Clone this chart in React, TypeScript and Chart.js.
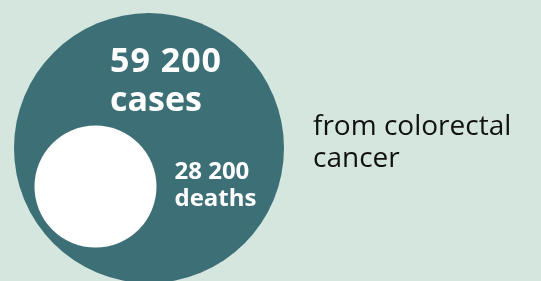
import React, { useEffect, useRef } from "react";
import { Chart, registerables } from "chart.js";

Chart.register(...registerables);

const categories = ["cases", "deaths"];
const values = [59200, 28200];
const valueLabels = ["59 200", "28 200"];
const caption = ["from colorectal", "cancer"];

// layout (not data)
const W = 541;
const H = 281;
const bubbleX = [27.54, 17.65];
const bubbleY = [47.3, 33.6];
const bubbleR = [135, 61];
const drawOrder = [1, 0];
const colors = ["#3d6f77", "#ffffff"];
const BG = "#d4e6de";

export default function App() {
  const ref = useRef<HTMLCanvasElement | null>(null);
  useEffect(() => {
    document.body.style.margin = "0";
    document.body.style.background = BG;
    const canvas = ref.current!;
    const textPlugin = {
      id: "texts",
      beforeDraw(chart: any) {
        const c = chart.ctx;
        c.save();
        c.fillStyle = BG;
        c.fillRect(0, 0, chart.width, chart.height);
        c.restore();
      },
      afterDatasetsDraw(chart: any) {
        const c = chart.ctx;
        const big = chart.getDatasetMeta(0).data[0];
        const small = chart.getDatasetMeta(1).data[0];
        c.save();
        c.fillStyle = "#ffffff";
        c.textAlign = "center";
        c.textBaseline = "alphabetic";
        c.font = "bold 34px 'Open Sans'";
        (c as any).letterSpacing = "1px";
        c.fillText(valueLabels[0], big.x + 17, big.y - 76);
        (c as any).letterSpacing = "0px";
        c.fillText(categories[0], big.x + 7, big.y - 37);
        c.font = "bold 24px 'Open Sans'";
        c.textAlign = "left";
        c.fillText(valueLabels[1], small.x + 79, small.y - 8);
        c.fillText(categories[1], small.x + 79, small.y + 19);
        c.fillStyle = "#111111";
        c.font = "500 28px 'Open Sans'";
        c.fillText(caption[0], 313, 135);
        c.fillText(caption[1], 313, 167);
        c.restore();
      },
    };
    const chart = new Chart(canvas, {
      type: "bubble",
      data: {
        labels: categories,
        datasets: categories.map((cat, i) => ({
          label: cat,
          data: [{ x: bubbleX[i], y: bubbleY[i], r: bubbleR[i], v: values[i] } as any],
          backgroundColor: colors[i],
          hoverBackgroundColor: colors[i],
          borderWidth: 0,
          hoverBorderWidth: 0,
          order: drawOrder[i],
          clip: false as any,
        })),
      },
      options: {
        animation: false,
        responsive: false,
        events: [],
        layout: { padding: 0, autoPadding: false } as any,
        plugins: { legend: { display: false }, tooltip: { enabled: false } },
        scales: {
          x: { type: "linear", min: 0, max: 100, display: false },
          y: { type: "linear", min: 0, max: 100, display: false },
        },
      },
      plugins: [textPlugin],
    });
    return () => chart.destroy();
  }, []);
  return <canvas ref={ref} width={W} height={H} style={{ display: "block", width: W, height: H }} />;
}
